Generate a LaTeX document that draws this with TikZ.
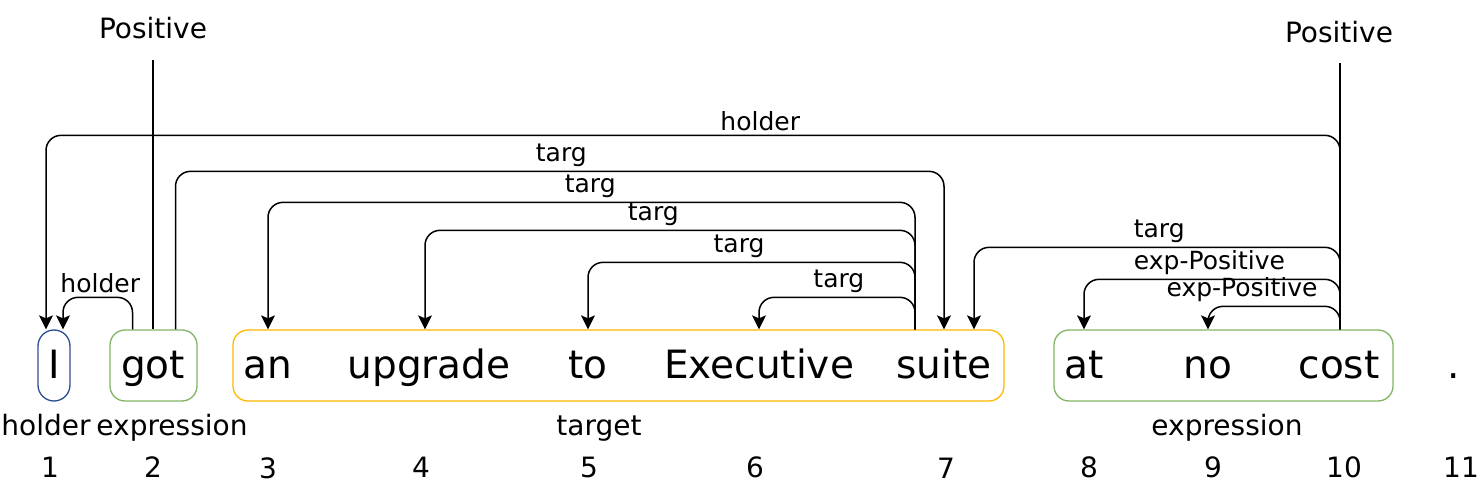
\documentclass[tikz,border=0pt]{standalone}
\usepackage{fontspec}
\setmainfont{DejaVu Sans}
\usetikzlibrary{arrows.meta}
\definecolor{holderblue}{RGB}{44,77,143}
\definecolor{exprgreen}{RGB}{130,179,102}
\definecolor{targorange}{RGB}{255,185,0}
\begin{document}
\begin{tikzpicture}[x=1pt, y=-1pt]
  \useasboundingbox (0, 0) rectangle (1480, 486);  % Rahmen wie Vorlage.
  \tikzstyle{box}=[draw, line width=1.3pt, inner sep=0pt, minimum height=71pt]
  \tikzstyle{word}=[anchor=base, inner sep=0pt, font=\fontsize{39}{44}\selectfont]
  \tikzstyle{tag}=[anchor=base, inner sep=0pt, font=\fontsize{28}{32}\selectfont]
  \tikzstyle{rel}=[above, inner sep=3.5pt, font=\fontsize{25}{29}\selectfont]
  \tikzstyle{arc}=[line width=1.5pt, rounded corners=15pt, -{Stealth[length=14pt, width=14pt, inset=3pt]}]

  \node[box, draw=holderblue, minimum width=32pt, rounded corners=16pt] (Ibox) at (54, 365.5) {};
  \node[box, draw=exprgreen, minimum width=87pt, rounded corners=15pt] (gotbox) at (153.5, 365.5) {};
  \node[box, draw=targorange, minimum width=771pt, rounded corners=15pt] (tgtbox) at (618.5, 365.5) {};
  \node[box, draw=exprgreen, minimum width=339pt, rounded corners=15pt] (expbox) at (1223.5, 365.5) {};

  \node[word] (w1) at (54, 378)    {I};
  \node[word] (w2) at (153, 378)   {got};
  \node[word] (w3) at (268, 378)   {an};
  \node[word] (w4) at (429, 378)   {upgrade};
  \node[word] (w5) at (588, 378)   {to};
  \node[word] (w6) at (759, 378)   {Executive};
  \node[word] (w7) at (944, 378)   {suite};
  \node[word] (w8) at (1084, 378)  {at};
  \node[word] (w9) at (1208, 378)  {no};
  \node[word] (w10) at (1339, 378) {cost};
  \node[word] (w11) at (1454, 378) {.};

  \node[tag] (t1) at (46, 435)   {holder};
  \node[tag] (t2) at (172, 435)  {expression};
  \node[tag] (t3) at (599, 435)  {target};
  \node[tag] (t4) at (1227, 435) {expression};

  \node[tag] (n1) at (50, 477)   {1};
  \node[tag] (n2) at (153, 477)  {2};
  \node[tag] (n3) at (268, 478)  {3};
  \node[tag] (n4) at (421, 477)  {4};
  \node[tag] (n5) at (589, 477)  {5};
  \node[tag] (n6) at (755, 477)  {6};
  \node[tag] (n7) at (946, 478)  {7};
  \node[tag] (n8) at (1089, 477) {8};
  \node[tag] (n9) at (1213, 477) {9};
  \node[tag] (n10) at (1344, 477) {10};
  \node[tag] (n11) at (1461, 477) {11};

  \node[tag] (pos1) at (153, 39)  {Positive};
  \node[tag] (pos2) at (1339, 43) {Positive};

  \draw[line width=1.5pt] ([yshift=-21pt]pos1.base) -- (w2 |- gotbox.north);
  \draw[line width=1.5pt] ([xshift=1pt, yshift=-20pt]pos2.base) -- ([xshift=1pt]w10 |- expbox.north);

  \draw[arc] ([xshift=1pt]w10 |- expbox.north) -- ++(0, -194) -| node[rel, pos=0.224] {holder} ([xshift=-8pt]Ibox.north);
  \draw[arc] ([xshift=22pt]gotbox.north) -- ++(0, -158) -| node[rel, pos=0.251] {targ} (w7 |- tgtbox.north);
  \draw[arc] ([xshift=-29pt]w7 |- tgtbox.north) -- ++(0, -127) -| node[rel, pos=0.251] {targ} (w3 |- tgtbox.north);
  \draw[arc] ([xshift=-29pt]w7 |- tgtbox.north) -- ++(0, -99) -| node[rel, pos=0.267] {targ} ([xshift=-4pt]w4 |- tgtbox.north);
  \draw[arc] ([xshift=-29pt]w7 |- tgtbox.north) -- ++(0, -67) -| node[rel, pos=0.269] {targ} (w5 |- tgtbox.north);
  \draw[arc] ([xshift=-29pt]w7 |- tgtbox.north) -- ++(0, -32) -| node[rel, pos=0.244] {targ} (w6 |- tgtbox.north);
  \draw[arc] ([xshift=1pt]w10 |- expbox.north) -- ++(0, -82) -| node[rel, pos=0.247] {targ} ([xshift=30pt]w7 |- tgtbox.north);
  \draw[arc] ([xshift=1pt]w10 |- expbox.north) -- ++(0, -50) -| node[rel, pos=0.255] {exp-Positive} (w8 |- expbox.north);
  \draw[arc] ([xshift=1pt]w10 |- expbox.north) -- ++(0, -23) -| node[rel, pos=0.371] {exp-Positive} (w9 |- expbox.north);
  \draw[arc] ([xshift=-21pt]gotbox.north) -- ++(0, -32) -| node[rel, pos=0.232] {holder} ([xshift=9pt]Ibox.north);
\end{tikzpicture}
\end{document}
